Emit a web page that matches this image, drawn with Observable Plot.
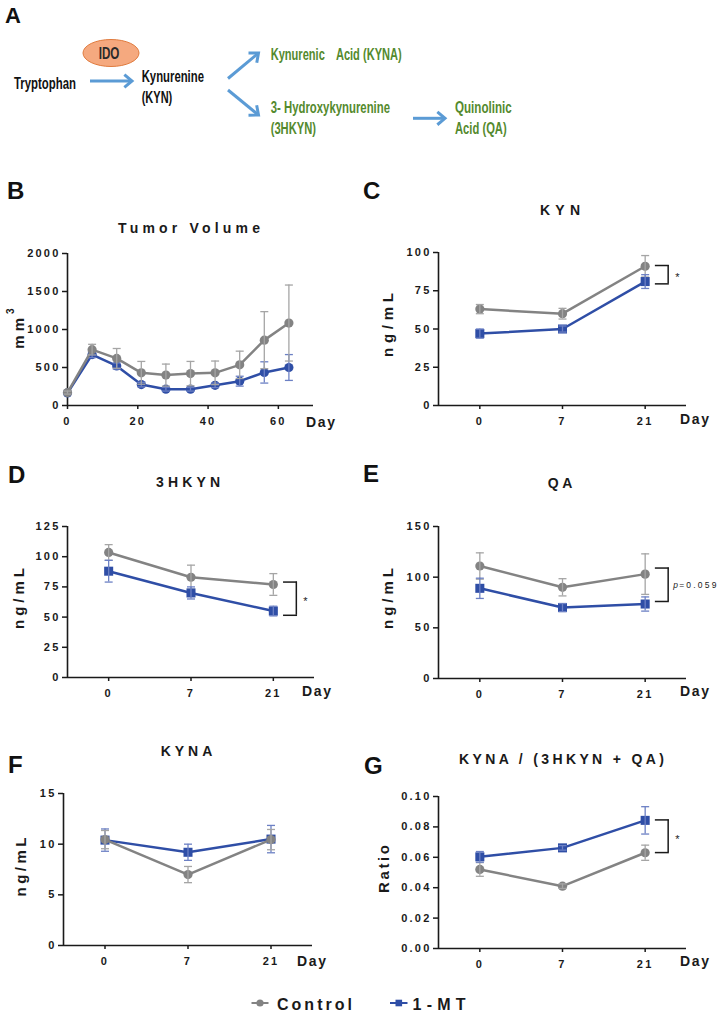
<!DOCTYPE html>
<html><head><meta charset="utf-8">
<script src="https://cdn.jsdelivr.net/npm/d3@7"></script>
<script src="https://cdn.jsdelivr.net/npm/@observablehq/plot@0.6"></script>
<style>
html,body{margin:0;padding:0;background:#fff;}
#fig{position:relative;width:719px;height:1015px;overflow:hidden;background:#fff;}
.panel{position:absolute;}
#overlay{position:absolute;left:0;top:0;pointer-events:none;}
</style></head><body>
<div id="fig"></div>
<script>
// ---------------- data ----------------
const groups = ["Control", "1-MT"];
// B: tumor volume (mm3)
const tumorDays = [0, 7, 14, 21, 28, 35, 42, 49, 56, 63];
const tumorControl = [170, 735, 620, 430, 400, 420, 430, 535, 860, 1085];
const tumorControlErr = [20, 70, 130, 150, 145, 160, 155, 180, 375, 500];
const tumorMT = [165, 670, 520, 275, 215, 215, 265, 320, 435, 500];
const tumorMTErr = [20, 40, 40, 30, 25, 25, 30, 65, 140, 170];
const tumorXTicks = [0, 20, 40, 60];
const tumorYTicks = [0, 500, 1000, 1500, 2000];
// C-G: days sampled
const dayLabels = ["0", "7", "21"];
// C: KYN (ng/mL)
const kynControl = [63, 60, 91];
const kynControlErr = [3, 3.5, 7];
const kynMT = [47, 50, 81];
const kynMTErr = [3, 2, 4.5];
const kynYTicks = [0, 25, 50, 75, 100];
const kynBracket = {hi: 91.5, lo: 79.5, label: "*"};
// D: 3HKYN (ng/mL)
const hkControl = [103.5, 83, 77];
const hkControlErr = [6.5, 10, 9];
const hkMT = [88, 70, 55];
const hkMTErr = [9, 5, 4];
const hkYTicks = [0, 25, 50, 75, 100, 125];
const hkBracket = {hi: 79, lo: 51.5, label: "*"};
// E: QA (ng/mL)
const qaControl = [111, 90, 103];
const qaControlErr = [13, 8.5, 20];
const qaMT = [89, 70, 73.5];
const qaMTErr = [10, 4, 7];
const qaYTicks = [0, 50, 100, 150];
const qaBracket = {hi: 109, lo: 76, label: "=0.059", italic: "p"};
// F: KYNA (ng/mL)
const kynaControl = [10.45, 7.0, 10.45];
const kynaControlErr = [0.9, 0.8, 1.0];
const kynaMT = [10.4, 9.2, 10.5];
const kynaMTErr = [1.1, 0.8, 1.35];
const kynaYTicks = [0, 5, 10, 15];
// G: KYNA / (3HKYN + QA) ratio
const ratioControl = [0.052, 0.041, 0.063];
const ratioControlErr = [0.0045, 0.0015, 0.005];
const ratioMT = [0.0603, 0.0662, 0.0843];
const ratioMTErr = [0.0035, 0.0015, 0.009];
const ratioYTicks = [0, 0.02, 0.04, 0.06, 0.08, 0.10];
const ratioBracket = {hi: 0.0846, lo: 0.0631, label: "*"};

// ---------------- styles ----------------
const C_CTRL = "#838383", C_CTRL_ERR = "#a5a5a5";
const C_MT = "#2f4ea6", C_MT_ERR = "#6c80c4";
const FONT = '"Liberation Sans", Arial, Helvetica, sans-serif';
const fig = document.getElementById("fig");
const capSym = {draw(ctx, size) { const w = Math.sqrt(size / Math.PI); ctx.moveTo(-w, 0); ctx.lineTo(w, 0); }};
const armSym = {draw(ctx, size) { const w = Math.sqrt(size / Math.PI); ctx.moveTo(-w, 0); ctx.lineTo(0, 0); }};
const plotStyle = {fontFamily: FONT, fontSize: "11px", fontWeight: "bold", letterSpacing: "2.2px",
  color: "#1a1a1a", background: "transparent", overflow: "visible"};

function place(node, box) {
  const d = document.createElement("div");
  d.className = "panel";
  d.style.left = box.left + "px"; d.style.top = box.top + "px";
  d.appendChild(node); fig.appendChild(d);
}

function seriesMarks(data, xKey, color, errColor, symbol) {
  const r = symbol === "square" ? 5.1 : 4.6;
  return [
    Plot.line(data, {x: xKey, y: "mean", stroke: color, strokeWidth: 2.5}),
    Plot.dot(data, {x: xKey, y: "mean", symbol, r, fill: color, stroke: "none"}),
    Plot.ruleX(data, {x: xKey, y1: d => d.mean - d.err, y2: d => d.mean + d.err, stroke: errColor, strokeWidth: 1.3}),
    Plot.dot(data, {x: xKey, y: d => d.mean - d.err, symbol: capSym, r: 4, stroke: errColor, fill: "none", strokeWidth: 1.3}),
    Plot.dot(data, {x: xKey, y: d => d.mean + d.err, symbol: capSym, r: 4, stroke: errColor, fill: "none", strokeWidth: 1.3})
  ];
}

// ---------------- Panel B ----------------
{
  const rows = (m, e) => tumorDays.map((d, i) => ({day: d, mean: m[i], err: e[i]}));
  const ctrl = rows(tumorControl, tumorControlErr), mt = rows(tumorMT, tumorMTErr);
  const box = {left: 0, top: 240};
  const chart = Plot.plot({
    width: 360, height: 200, marginLeft: 67, marginRight: 47, marginTop: 13, marginBottom: 35,
    style: plotStyle,
    x: {domain: [0, 70]}, y: {domain: [0, 2000]},
    marks: [
      Plot.axisY({ticks: tumorYTicks, tickFormat: d => String(d), tickSize: 5, tickPadding: 2, strokeWidth: 1.5, label: null}),
      Plot.axisX({ticks: tumorXTicks, tickFormat: d => String(d), tickSize: 4, tickPadding: 8, strokeWidth: 1.5, label: null}),
      Plot.ruleY([0], {strokeWidth: 1.6}),
      Plot.ruleX([0], {strokeWidth: 1.6}),
      ...seriesMarks(mt, "day", C_MT, C_MT_ERR, "circle"),
      ...seriesMarks(ctrl, "day", C_CTRL, C_CTRL_ERR, "circle")
    ]
  });
  place(chart, box);
}

// ---------------- category panels ----------------
function catPanel(cfg) {
  const n = dayLabels.length;
  const rows = (m, e) => dayLabels.map((lab, i) => ({i, mean: m[i], err: e[i]}));
  const ctrl = rows(cfg.ctrl, cfg.ctrlErr), mt = rows(cfg.mt, cfg.mtErr);
  const xDom = [-0.5, n - 0.5];
  const marks = [
    Plot.axisY({ticks: cfg.yTicks, tickFormat: cfg.yFormat || (d => String(d)), tickSize: 5, tickPadding: 2, strokeWidth: 1.5, label: null}),
    Plot.axisX({ticks: d3.range(n), tickFormat: i => dayLabels[i], tickSize: 4, tickPadding: 8, strokeWidth: 1.5, label: null}),
    Plot.ruleY([cfg.yDomain[0]], {strokeWidth: 1.6}),
    Plot.ruleX([xDom[0]], {strokeWidth: 1.6})
  ];
  if (cfg.ctrlOnTop) {
    marks.push(...seriesMarks(mt, "i", C_MT, C_MT_ERR, "square"), ...seriesMarks(ctrl, "i", C_CTRL, C_CTRL_ERR, "circle"));
  } else {
    marks.push(...seriesMarks(ctrl, "i", C_CTRL, C_CTRL_ERR, "circle"), ...seriesMarks(mt, "i", C_MT, C_MT_ERR, "square"));
  }
  if (cfg.bracket) {
    const b = Object.assign({x: n - 1}, cfg.bracket);
    const off = 23;
    marks.push(
      Plot.ruleX([b], {x: "x", y1: "hi", y2: "lo", dx: off, stroke: "#1a1a1a", strokeWidth: 1.5}),
      Plot.dot([{x: b.x, y: b.hi}, {x: b.x, y: b.lo}], {x: "x", y: "y", symbol: armSym, r: 14, dx: off + 0.7, stroke: "#1a1a1a", fill: "none", strokeWidth: 1.5})
    );
    if (b.italic) {
      marks.push(
        Plot.text([b], {x: "x", y: d => (d.hi + d.lo) / 2, text: "italic", dx: off + 5, textAnchor: "start", fontSize: 8.5, fontStyle: "italic", fontWeight: "normal"}),
        Plot.text([b], {x: "x", y: d => (d.hi + d.lo) / 2, text: "label", dx: off + 11, textAnchor: "start", fontSize: 8.5, fontWeight: "normal"})
      );
    } else {
      marks.push(Plot.text([b], {x: "x", y: d => (d.hi + d.lo) / 2, text: "label", dx: off + 7, dy: 3, textAnchor: "start", fontSize: 11, fontWeight: "normal"}));
    }
  }
  const chart = Plot.plot({
    width: cfg.box.width, height: cfg.box.height,
    marginLeft: cfg.box.mL, marginRight: cfg.box.mR, marginTop: cfg.box.mT, marginBottom: cfg.box.mB,
    style: plotStyle,
    x: {type: "linear", domain: xDom}, y: {domain: cfg.yDomain},
    marks
  });
  place(chart, cfg.box);
}

catPanel({box: {left: 360, top: 240, width: 359, height: 200, mL: 78, mR: 33, mT: 12, mB: 35},
  yDomain: [0, 100], yTicks: kynYTicks, ctrl: kynControl, ctrlErr: kynControlErr, mt: kynMT, mtErr: kynMTErr, bracket: kynBracket});
catPanel({box: {left: 0, top: 515, width: 360, height: 200, mL: 67, mR: 46, mT: 11, mB: 38},
  yDomain: [0, 125], yTicks: hkYTicks, ctrl: hkControl, ctrlErr: hkControlErr, mt: hkMT, mtErr: hkMTErr, bracket: hkBracket});
catPanel({box: {left: 360, top: 515, width: 359, height: 200, mL: 78, mR: 33, mT: 11, mB: 37},
  yDomain: [0, 150], yTicks: qaYTicks, ctrl: qaControl, ctrlErr: qaControlErr, mt: qaMT, mtErr: qaMTErr, bracket: qaBracket});
catPanel({box: {left: 0, top: 780, width: 360, height: 200, mL: 63, mR: 48, mT: 13, mB: 35},
  yDomain: [0, 15], yTicks: kynaYTicks, ctrl: kynaControl, ctrlErr: kynaControlErr, mt: kynaMT, mtErr: kynaMTErr, ctrlOnTop: true});
catPanel({box: {left: 360, top: 785, width: 359, height: 200, mL: 78, mR: 33, mT: 11, mB: 37},
  yDomain: [0, 0.10], yTicks: ratioYTicks, yFormat: d3.format(".2f"), ctrl: ratioControl, ctrlErr: ratioControlErr, mt: ratioMT, mtErr: ratioMTErr, bracket: ratioBracket});

// ---------------- overlay: diagram, letters, titles, labels, legend ----------------
const NS = "http://www.w3.org/2000/svg";
const ov = document.createElementNS(NS, "svg");
ov.setAttribute("id", "overlay"); ov.setAttribute("width", 719); ov.setAttribute("height", 1015);
ov.style.fontFamily = FONT;
fig.appendChild(ov);
function el(tag, attrs, text) {
  const e = document.createElementNS(NS, tag);
  for (const k in attrs) e.setAttribute(k, attrs[k]);
  if (text != null) e.textContent = text;
  ov.appendChild(e); return e;
}

// Panel A pathway diagram
const NARROW = '"Liberation Sans Narrow", "Liberation Sans", Arial, sans-serif';
el("ellipse", {cx: 111, cy: 53, rx: 28, ry: 13.5, fill: "#f5a97f", stroke: "#e07b3e", "stroke-width": 1});
const GREEN = "#548a2e";
const diagramTexts = [
  ["IDO", 98.7, 58.6, 20.7, "#2a2a2a"],
  ["Tryptophan", 14, 89.3, 62, "#111"],
  ["Kynurenine", 141.7, 81.5, 62.3, "#111"],
  ["(KYN)", 141.7, 102.6, 30.6, "#111"],
  ["Kynurenic\u2003Acid (KYNA)", 270.7, 59.8, 131, GREEN],
  ["3- Hydroxykynurenine", 270.7, 113, 119.3, GREEN],
  ["(3HKYN)", 270.7, 134, 45.3, GREEN],
  ["Quinolinic", 455, 113, 56.7, GREEN],
  ["Acid (QA)", 455, 134, 51.7, GREEN]
];
for (const [t, x, y, w, c] of diagramTexts) {
  el("text", {x, y, fill: c, "font-size": 17, "font-weight": "bold", "font-family": NARROW, textLength: w, lengthAdjust: "spacingAndGlyphs", style: "white-space:pre"}, t);
}
function arrow(x1, y1, x2, y2) {
  const ang = Math.atan2(y2 - y1, x2 - x1), L = 10, a = 0.7;
  const p1 = [x2 - L * Math.cos(ang - a), y2 - L * Math.sin(ang - a)];
  const p2 = [x2 - L * Math.cos(ang + a), y2 - L * Math.sin(ang + a)];
  el("line", {x1, y1, x2: x2 - 1.5 * Math.cos(ang), y2: y2 - 1.5 * Math.sin(ang), stroke: "#5b9bd5", "stroke-width": 3});
  el("polyline", {points: `${p1} ${x2},${y2} ${p2}`, fill: "none", stroke: "#5b9bd5", "stroke-width": 3, "stroke-linejoin": "miter", "stroke-linecap": "butt"});
}
arrow(90, 81, 132, 81);
arrow(228, 78.5, 258.5, 53);
arrow(228, 90, 258.5, 115);
arrow(413, 118.3, 445, 118.3);

// panel letters
const letters = [["A", 5, 23, 22], ["B", 7, 199, 24], ["C", 363, 199, 24], ["D", 8, 483, 24], ["E", 363, 482, 24], ["F", 8, 773, 24], ["G", 364, 774, 24]];
for (const [t, x, y, s] of letters) el("text", {x, y, "font-size": s, "font-weight": "bold", fill: "#111"}, t);

// panel titles
const titles = [["Tumor Volume", 189, 232.5, 142], ["KYN", 560, 215, 40], ["3HKYN", 188, 487, 64], ["QA", 560, 487.5, 24.6], ["KYNA", 186.5, 755.5, 51.6], ["KYNA / (3HKYN + QA)", 561.5, 764, 205]];
for (const [t, x, y, w] of titles) el("text", {x, y, "font-size": 14, "font-weight": "bold", fill: "#1a1a1a", "text-anchor": "middle", textLength: w, lengthAdjust: "spacing"}, t);

// y-axis labels (rotated)
const ylabels = [["ng/mL", 387, 325, 64], ["ng/mL", 18, 598.5, 61], ["ng/mL", 387, 598.5, 61], ["ng/mL", 20, 867, 59], ["Ratio", 383, 869, 48]];
for (const [t, x, y, w] of ylabels) el("text", {transform: `translate(${x},${y}) rotate(-90)`, "font-size": 15, "font-weight": "bold", fill: "#1a1a1a", "text-anchor": "middle", "dominant-baseline": "central", textLength: w, lengthAdjust: "spacing"}, t);
{
  const t = el("text", {transform: "translate(18,326.5) rotate(-90)", "font-size": 15, "font-weight": "bold", fill: "#1a1a1a", "text-anchor": "middle", "dominant-baseline": "central", "letter-spacing": "4"}, "mm");
  const s = document.createElementNS(NS, "tspan");
  s.setAttribute("font-size", 10); s.setAttribute("dy", -8); s.textContent = "3";
  t.appendChild(s);
}

// "Day" x-axis labels
const dayPos = [[306, 426.5], [680, 424], [302, 695.5], [680, 695.5], [297, 966], [680, 966]];
for (const [x, y] of dayPos) el("text", {x, y, "font-size": 14, "font-weight": "bold", fill: "#1a1a1a", textLength: 29, lengthAdjust: "spacing"}, "Day");

// legend
const ly = 1003;
el("line", {x1: 251.5, y1: ly, x2: 268.5, y2: ly, stroke: C_CTRL, "stroke-width": 2});
el("circle", {cx: 260, cy: ly, r: 3.6, fill: C_CTRL});
el("text", {x: 277, y: 1009.5, "font-size": 16, "font-weight": "bold", fill: "#1a1a1a", textLength: 75, lengthAdjust: "spacing"}, groups[0]);
el("line", {x1: 390, y1: ly, x2: 407.5, y2: ly, stroke: C_MT, "stroke-width": 2});
el("rect", {x: 395.5, y: ly - 3.3, width: 6.6, height: 6.6, fill: C_MT});
el("text", {x: 412.5, y: 1009.5, "font-size": 16, "font-weight": "bold", fill: "#1a1a1a", textLength: 53, lengthAdjust: "spacing"}, groups[1]);
</script>
</body></html>
